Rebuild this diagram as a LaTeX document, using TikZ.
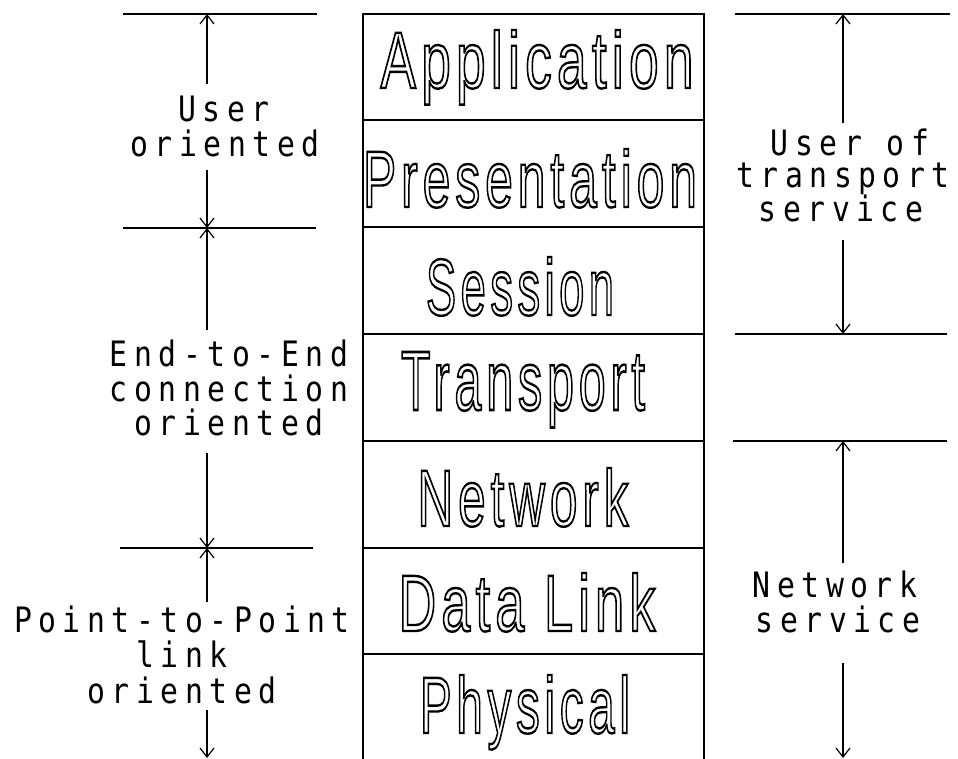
\documentclass[tikz,border=0pt]{standalone}
\usepackage{fontspec}
\usepackage{graphicx}
\setmainfont{Liberation Sans}
\newfontfamily\layfont[LetterSpace=10]{Liberation Sans}
\newfontfamily\labfont[LetterSpace=22]{DejaVu Sans Mono}
\usetikzlibrary{arrows.meta}
\newcommand\hollowtxt[1]{\special{pdf:literal direct 1 Tr 2.4 w}#1\special{pdf:literal direct 0 Tr}}
\newcommand\layname[2]{\resizebox{#1}{58pt}{\layfont\fontsize{80}{80}\selectfont\hollowtxt{#2}}}
\newcommand\mtxt[1]{\scalebox{0.85}[1]{#1}}
\begin{document}
\begin{tikzpicture}[x=1pt,y=-1pt,
  layer/.style={draw, line width=1.6pt, minimum width=341pt, inner sep=0pt, outer sep=0pt, anchor=north west},
  lname/.style={anchor=base, inner sep=0pt},
  mlab/.style={anchor=base, inner sep=0pt, font=\labfont\fontsize{35}{35}\selectfont},
  rulel/.style={line width=1.7pt},
  dim/.style={line width=1.2pt, -{Straight Barb[length=9pt,width=14pt,line width=1.2pt]}}
]
\useasboundingbox (0,0) rectangle (958,759);
% layer stack
\node[layer, minimum height=106pt] (app) at (363,14) {};
\node[layer, minimum height=107pt] (pre) at (363,120) {};
\node[layer, minimum height=107pt] (ses) at (363,227) {};
\node[layer, minimum height=107pt] (tra) at (363,334) {};
\node[layer, minimum height=107pt] (net) at (363,441) {};
\node[layer, minimum height=106pt] (dat) at (363,548) {};
\node[layer, minimum height=110pt] (phy) at (363,654) {};
\node[lname] (tapp) at (537,88) {\layname{313pt}{Application}};
\node[lname] (tpre) at (530,207) {\layname{334pt}{Presentation}};
\node[lname] (tses) at (520,315) {\layname{188pt}{Session}};
\node[lname] (ttra) at (523,410) {\layname{244pt}{Transport}};
\node[lname] (tnet) at (523,526) {\layname{211pt}{Network}};
\node[lname] (tdat) at (527,631) {\layname{257pt}{Data Link}};
\node[lname] (tphy) at (525,733) {\layname{210pt}{Physical}};
% left rules
\coordinate (la1) at (123,14);  \coordinate (lb1) at (317,14);
\coordinate (la2) at (123,228); \coordinate (lb2) at (316,228);
\coordinate (la3) at (120,548); \coordinate (lb3) at (313,548);
\draw[rulel] (la1) -- (lb1);
\draw[rulel] (la2) -- (lb2);
\draw[rulel] (la3) -- (lb3);
% right rules
\coordinate (ra1) at (735,14);  \coordinate (rb1) at (950,14);
\coordinate (ra2) at (735,334); \coordinate (rb2) at (947,334);
\coordinate (ra3) at (733,441); \coordinate (rb3) at (947,441);
\draw[rulel] (ra1) -- (rb1);
\draw[rulel] (ra2) -- (rb2);
\draw[rulel] (ra3) -- (rb3);
% left labels
\node[mlab] (u1) at (224,122) {\mtxt{User}};
\node[mlab] (u2) at (225,157) {\mtxt{oriented}};
\node[mlab] (e1) at (229,366) {\mtxt{End-to-End}};
\node[mlab] (e2) at (229,401) {\mtxt{connection}};
\node[mlab] (e3) at (229,435) {\mtxt{oriented}};
\node[mlab] (p1) at (182,632) {\mtxt{Point-to-Point}};
\node[mlab] (p2) at (182,667) {\mtxt{link}};
\node[mlab] (p3) at (182,703) {\mtxt{oriented}};
% right labels
\node[mlab] (s1) at (850,156) {\mtxt{User of}};
\node[mlab] (s2) at (843,188) {\mtxt{transport}};
\node[mlab] (s3) at (841,222) {\mtxt{service}};
\node[mlab] (n1) at (835,597) {\mtxt{Network}};
\node[mlab] (n2) at (838,632) {\mtxt{service}};
% left arrows
\coordinate (a1s) at (207,84);  \coordinate (a1e) at (207,14);
\coordinate (a2s) at (207,170); \coordinate (a2e) at (207,228);
\coordinate (a3s) at (207,330); \coordinate (a3e) at (207,228);
\coordinate (a4s) at (207,453); \coordinate (a4e) at (207,548);
\coordinate (a5s) at (207,602); \coordinate (a5e) at (207,548);
\coordinate (a6s) at (207,710); \coordinate (a6e) at (207,758);
\draw[dim] (a1s) -- (a1e);
\draw[dim] (a2s) -- (a2e);
\draw[dim] (a3s) -- (a3e);
\draw[dim] (a4s) -- (a4e);
\draw[dim] (a5s) -- (a5e);
\draw[dim] (a6s) -- (a6e);
% right arrows
\coordinate (b1s) at (843,123); \coordinate (b1e) at (843,14);
\coordinate (b2s) at (843,240); \coordinate (b2e) at (843,334);
\coordinate (b3s) at (843,563); \coordinate (b3e) at (843,441);
\coordinate (b4s) at (843,663); \coordinate (b4e) at (843,758);
\draw[dim] (b1s) -- (b1e);
\draw[dim] (b2s) -- (b2e);
\draw[dim] (b3s) -- (b3e);
\draw[dim] (b4s) -- (b4e);
\end{tikzpicture}
\end{document}
